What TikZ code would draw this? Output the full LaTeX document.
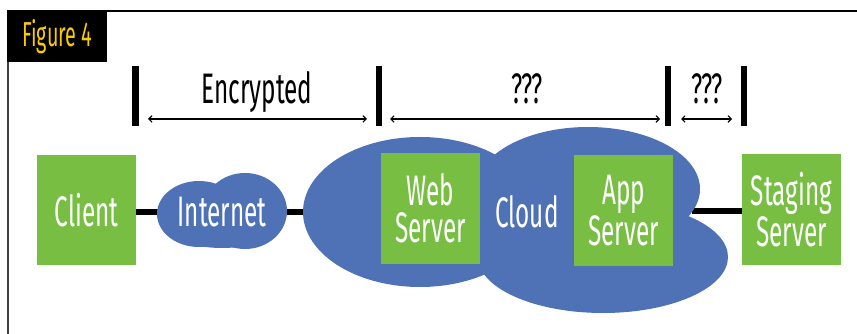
\documentclass[tikz,border=0pt]{standalone}
\usepackage{fontspec}
\setmainfont{Fira Sans}
\newfontfamily\cond[FakeStretch=0.57]{Fira Sans}
\usetikzlibrary{arrows.meta}
\pgfdeclarelayer{lines}
\pgfdeclarelayer{clouds}
\pgfsetlayers{lines,clouds,main}
\definecolor{boxgreen}{RGB}{119,190,67}
\definecolor{cloudblue}{RGB}{79,114,183}
\definecolor{figyellow}{RGB}{250,204,0}
\tikzset{
  gbox/.style={fill=boxgreen, minimum width=74.25pt, minimum height=83pt, inner sep=0pt,
    text=white, font=\cond\fontsize{32}{28}\selectfont, align=center},
  cloudfill/.style={fill=cloudblue},
  ctext/.style={text=white, font=\cond\fontsize{32}{28}\selectfont, align=center},
  bar/.style={line width=5.2pt},
  link/.style={line width=4.5pt},
  span/.style={line width=0.8pt, {Straight Barb[length=2.5pt,width=5pt]}-{Straight Barb[length=2.5pt,width=5pt]}},
  lbl/.style={font=\cond\fontsize{32}{34}\selectfont, anchor=base}
}
\begin{document}
\begin{tikzpicture}[x=0.75pt,y=-0.75pt]
\useasboundingbox (0,0) rectangle (857,334);
% frame
\draw[line width=1.2pt] (7,11) -- (857,11);
\draw[line width=1.5pt, black!75] (8,11) -- (8,334);
\node[fill=black, minimum width=75pt, minimum height=38.25pt, inner sep=0pt, anchor=north west,
  text=figyellow, font=\cond\fontsize{26}{28}\selectfont] (fig) at (7,11) {Figure 4};
% bars
\foreach \n/\x in {b1/135.5, b2/379, b3/668, b4/744}{
  \coordinate (\n t) at (\x,66);
  \coordinate (\n b) at (\x,126);
  \draw[bar] (\n t) -- (\n b);
}
\coordinate (a1s) at (148,119); \coordinate (a1e) at (367,119);
\coordinate (a2s) at (390,119); \coordinate (a2e) at (660,119);
\coordinate (a3s) at (681,119); \coordinate (a3e) at (732,119);
\draw[span] (a1s) -- (a1e);
\draw[span] (a2s) -- (a2e);
\draw[span] (a3s) -- (a3e);
\node[lbl] (enc) at (257,104) {Encrypted};
\node[lbl] (q1) at (527,104) {???};
\node[lbl] (q2) at (707,104) {???};
% boxes
\node[gbox] (client) at (86.5,210) {Client};
\node[gbox] (web) at (430.5,208.5) {Web\\Server};
\node[gbox] (app) at (623.5,210.5) {App\\Server};
\node[gbox] (staging) at (791.5,209.5) {Staging\\Server};
\node[ctext] (internet) at (222,212) {Internet};
\node[ctext] (cloud) at (527,212) {Cloud};
\coordinate (notch) at (692,211);
% connectors (behind clouds)
\begin{pgfonlayer}{lines}
\draw[link] (client.east |- internet) -- (internet.center);
\draw[link] (internet.center) -- (cloud.center);
\draw[link] (notch) -- (staging.west |- notch);
\end{pgfonlayer}
\begin{pgfonlayer}{clouds}
% internet cloud
\fill[cloudfill] (199,214) ellipse [x radius=42, y radius=33];
\fill[cloudfill] (245,211) ellipse [x radius=42, y radius=38];
\fill[cloudfill] (222,230) ellipse [x radius=50, y radius=18];
% big cloud
\fill[cloudfill] (420,212) ellipse [x radius=117, y radius=75];
\fill[cloudfill] (588,189) ellipse [x radius=112, y radius=62];
\fill[cloudfill] (603,257) ellipse [x radius=125, y radius=56];
\fill[cloudfill] (560,220) ellipse [x radius=100, y radius=60];
\end{pgfonlayer}
\end{tikzpicture}
\end{document}
